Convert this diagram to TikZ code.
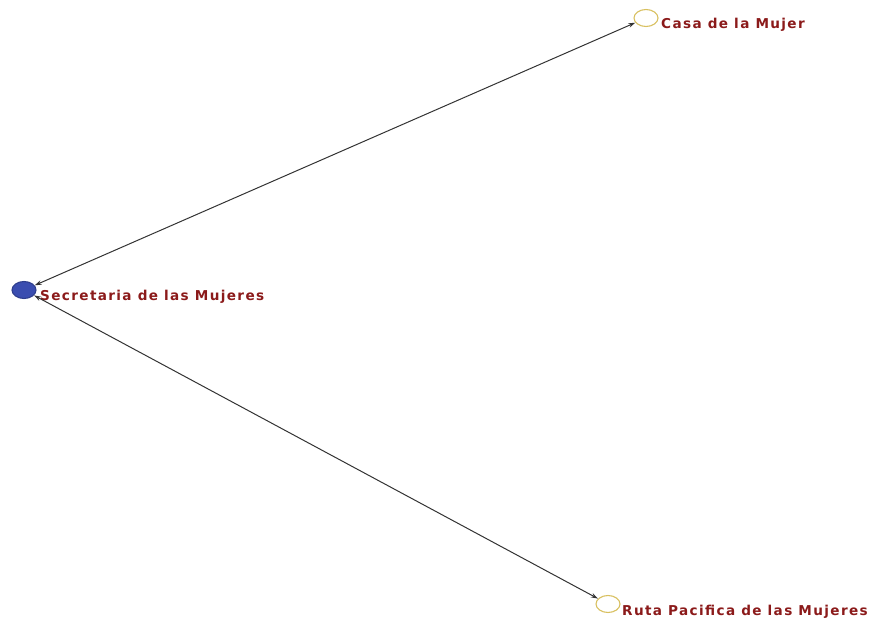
\documentclass[tikz,border=0pt]{standalone}
\usepackage{fontspec}
\setmainfont{Liberation Sans}
\newfontfamily\labfont[LetterSpace=10]{DejaVu Sans}
\usetikzlibrary{shapes.geometric,arrows.meta}
\definecolor{lbl}{HTML}{8B1A1A}
\definecolor{nblue}{HTML}{3A4DB0}
\definecolor{nyel}{HTML}{D8C060}
\begin{document}
\begin{tikzpicture}[x=1pt,y=-1pt,
  vtx/.style={ellipse,minimum width=24pt,minimum height=17pt,inner sep=0pt,line width=1.1pt},
  lab/.style={anchor=base west,inner sep=0pt,text=lbl,font=\labfont\fontsize{13.6}{15}\selectfont\bfseries},
  link/.style={draw=black!80,line width=1pt,{Stealth[length=7pt,width=4.5pt]}-{Stealth[length=7pt,width=4.5pt]}}]
\useasboundingbox (0,0) rectangle (869,621);
\node[vtx,fill=nblue,draw=nblue!80!black] (sec) at (24,290) {};
\node[vtx,draw=nyel] (casa) at (646,18) {};
\node[vtx,draw=nyel] (ruta) at (608,604) {};
\node[lab] (lsec) at (40,300) {Secretaria de las Mujeres};
\node[lab] (lcasa) at (661,28) {Casa de la Mujer};
\node[lab] (lruta) at (622,615) {Ruta Pacifica de las Mujeres};
\draw[link] (sec) -- (casa);
\draw[link] (sec) -- (ruta);
\end{tikzpicture}
\end{document}
